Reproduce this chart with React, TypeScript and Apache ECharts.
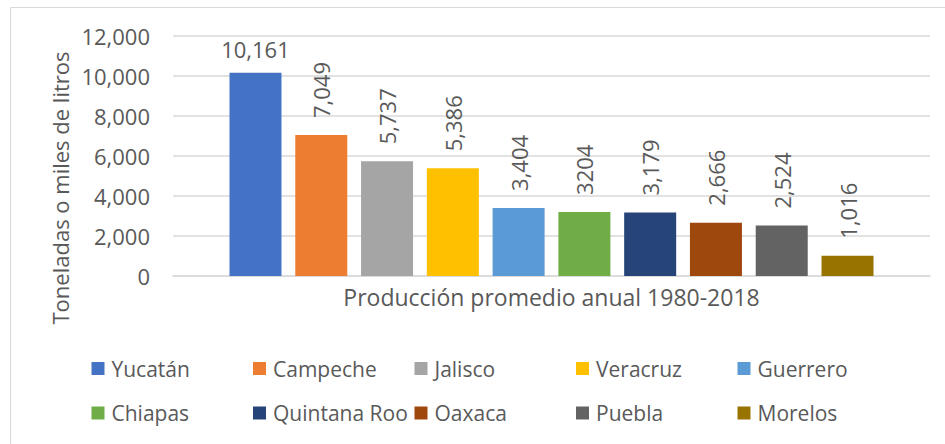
import React, { useEffect, useRef } from "react";
import * as echarts from "echarts";

const states = ["Yucatán", "Campeche", "Jalisco", "Veracruz", "Guerrero", "Chiapas", "Quintana Roo", "Oaxaca", "Puebla", "Morelos"];
const values = [10161, 7049, 5737, 5386, 3404, 3204, 3179, 2666, 2524, 1016];
const valueLabels = ["10,161", "7,049", "5,737", "5,386", "3,404", "3204", "3,179", "2,666", "2,524", "1,016"];
const colors = ["#4472C4", "#ED7D31", "#A5A5A5", "#FFC000", "#5B9BD5", "#70AD47", "#264478", "#9E480E", "#636363", "#997300"];
const category = ["Producción promedio anual 1980-2018"];
const yTitle = "Toneladas o miles de litros";

const FONT = "'Open Sans', 'Noto Sans', sans-serif";
const TEXT = "#595959";
const GRID = "#D9D9D9";

export default function App() {
  const ref = useRef<HTMLDivElement>(null);
  useEffect(() => {
    if (!ref.current) return;
    const chart = echarts.init(ref.current, undefined, { renderer: "svg" });
    const series = states.map((s, i) => ({
      name: s,
      type: "bar",
      data: [values[i]],
      barWidth: 52,
      barGap: "26.5%",
      itemStyle: { color: colors[i] },
      label: {
        show: true,
        position: "top",
        formatter: () => valueLabels[i],
        fontFamily: FONT,
        fontSize: 22,
        color: TEXT,
        ...(i === 0
          ? { distance: 13 }
          : { rotate: 90, align: "left", verticalAlign: "middle", distance: 17 }),
      },
    }));
    const legendCommon = {
      left: 91.5,
      padding: 0,
      orient: "horizontal",
      itemWidth: 13,
      itemHeight: 13,
      itemGap: 0,
      icon: "rect",
      textStyle: {
        fontFamily: FONT,
        fontSize: 21,
        color: TEXT,
        width: 141.5,
        lineHeight: 26,
        padding: [0, 0, 0, 2],
      },
    };
    chart.setOption({
      animation: false,
      backgroundColor: "#fff",
      textStyle: { fontFamily: FONT },
      grid: { left: 173, right: 15, top: 36, bottom: 168, containLabel: false },
      xAxis: {
        type: "category",
        data: category,
        name: category[0],
        nameLocation: "middle",
        nameGap: 9,
        nameTextStyle: { fontFamily: FONT, fontSize: 23, color: TEXT, verticalAlign: "top" },
        axisLine: { show: true, lineStyle: { color: GRID, width: 1.5 } },
        axisTick: { show: false },
        axisLabel: { show: false },
      },
      yAxis: {
        type: "value",
        min: 0,
        max: 12000,
        interval: 2000,
        axisLine: { show: false },
        axisTick: { show: false },
        axisLabel: {
          margin: 23,
          fontFamily: FONT,
          fontSize: 22,
          color: TEXT,
          formatter: (v: number) => v.toLocaleString("en-US"),
        },
        splitLine: { lineStyle: { color: GRID, width: 1.5 } },
      },
      legend: [
        { ...legendCommon, top: 355.5, data: states.slice(0, 5) },
        { ...legendCommon, top: 400, data: states.slice(5) },
      ],
      graphic: [
        {
          type: "rect",
          shape: { x: 10.5, y: 7.5, width: 960, height: 460 },
          style: { fill: "none", stroke: GRID, lineWidth: 1 },
          silent: true,
        },
        {
          type: "text",
          x: 60,
          y: 188,
          rotation: Math.PI / 2,
          style: {
            text: yTitle,
            fontFamily: FONT,
            fontSize: 22,
            fill: TEXT,
            textAlign: "center",
            textVerticalAlign: "middle",
          },
        },
      ],
      series,
    });
    return () => chart.dispose();
  }, []);
  return (
    <div
      ref={ref}
      style={{ position: "fixed", left: 0, top: 0, width: 945, height: 444, background: "#fff" }}
    />
  );
}
